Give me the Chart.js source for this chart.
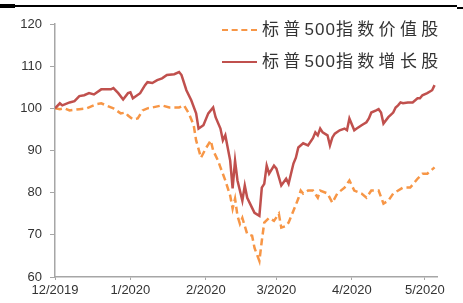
<!DOCTYPE html>
<html lang="zh">
<head>
<meta charset="UTF-8">
<title>标普500指数价值股与增长股</title>
<script src="https://cdn.jsdelivr.net/npm/chart.js"></script>
<style>
    body { margin: 0; background: #fff; }
    #wrap { position: relative; width: 463px; height: 303px; }
    #chart { position: absolute; left: 0; top: 0; }
    .bar { position: absolute; background: #000; }
    .legend { position: absolute; left: 222px; top: 0; width: 241px; height: 80px;
              font-family: "Liberation Sans", "Noto Sans CJK SC", sans-serif;
              font-size: 17px; color: #333; white-space: nowrap; }
    .legend .item { position: absolute; left: 0; height: 20px; width: 240px; }
    .legend .swatch { position: absolute; left: 0; top: 9px; width: 35px; height: 0; }
    .legend .txt { position: absolute; left: 40px; top: 0; line-height: 20px; letter-spacing: 4.3px; }
    .legend .num { letter-spacing: 1px; }
</style>
</head>
<body>
<div id="wrap">
    <canvas id="chart" width="463" height="303"></canvas>
    <div class="bar" style="left:0;top:4px;width:15px;height:4px"></div>
    <div class="bar" style="left:15px;top:5px;width:442px;height:2px"></div>
    <div class="bar" style="left:457px;top:7px;width:6px;height:2px"></div>
    <div class="legend">
        <div class="item" style="top:20px">
            <div class="swatch" style="border-top:2.5px dashed #F79646"></div>
            <div class="txt">标普<span class="num">500</span>指数价值股</div>
        </div>
        <div class="item" style="top:52px">
            <div class="swatch" style="border-top:2.5px solid #C0504D"></div>
            <div class="txt">标普<span class="num">500</span>指数增长股</div>
        </div>
    </div>
</div>

<script>
// days counted from 1 Dec 2019
const tickDays = [0, 31, 62, 91, 122, 152];
const tickLabels = ['12/2019', '1/2020', '2/2020', '3/2020', '4/2020', '5/2020'];

// S&P 500 value index (rebased to 100)
const valueDays = [0, 2, 4, 6, 10, 13, 17, 19, 21, 24, 27, 29, 30, 32, 34, 36, 38, 40, 44, 47,
    51, 53, 55, 57, 58, 60, 62, 64, 65, 67, 68, 70, 72, 73, 74, 75, 76, 77, 79, 81,
    82, 84, 85, 86, 88, 90, 92, 93, 95, 96, 98, 100, 101, 102, 104, 106, 108, 109, 112, 114,
    116, 119, 121, 123, 126, 128, 130, 133, 135, 137, 139, 143, 146, 149, 151, 153, 156];
const valueIdx = [100.0, 99.8, 100.0, 99.5, 99.8, 100.0, 101.0, 101.2, 100.7, 100.0, 98.8, 99.0, 98.3, 97.4, 97.6, 99.5, 100.0, 100.2, 100.7, 100.2,
    100.2, 100.7, 98.8, 96.0, 92.4, 88.3, 90.5, 92.4, 90.0, 87.6, 86.0, 82.9, 79.3, 76.2, 78.6, 74.5, 72.6, 74.0, 70.2, 69.8,
    66.9, 63.8, 68.6, 72.9, 74.0, 73.3, 75.0, 71.7, 72.1, 72.9, 75.7, 78.6, 80.5, 79.8, 80.5, 80.5, 78.8, 80.5, 79.8, 77.6,
    79.8, 81.2, 82.9, 80.5, 79.8, 78.8, 80.5, 80.5, 77.4, 78.1, 79.8, 81.2, 81.2, 83.3, 84.5, 84.5, 86.0];

// S&P 500 growth index (rebased to 100)
const growthDays = [0, 2, 3, 6, 8, 10, 12, 14, 16, 19, 23, 24, 26, 28, 30, 31, 32, 35, 37, 38,
    40, 42, 44, 46, 49, 51, 52, 54, 56, 58, 59, 61, 63, 65, 66, 68, 69, 70, 72, 73,
    74, 75, 77, 78, 79, 81, 82, 84, 85, 86, 87, 88, 90, 91, 93, 95, 96, 98, 99, 100,
    102, 104, 106, 107, 108, 109, 110, 112, 113, 114, 115, 117, 119, 120, 121, 123, 124, 126, 128, 129,
    130, 132, 133, 134, 135, 137, 139, 140, 141, 142, 143, 145, 147, 149, 150, 151, 153, 155, 156];
const growthIdx = [100.0, 101.2, 100.7, 101.4, 101.7, 102.9, 103.1, 103.6, 103.3, 104.5, 104.5, 104.8, 103.6, 102.1, 103.6, 103.8, 102.4, 103.6, 105.5, 106.2,
    106.0, 106.7, 107.1, 107.9, 108.1, 108.6, 107.9, 104.3, 101.9, 98.8, 95.2, 96.0, 98.8, 100.2, 97.9, 95.2, 92.4, 93.6, 87.6, 81.0,
    87.6, 82.9, 78.1, 81.7, 78.8, 76.4, 75.2, 74.5, 81.2, 82.1, 86.4, 84.5, 86.4, 85.7, 81.7, 83.3, 82.1, 86.9, 88.3, 90.7,
    91.7, 91.2, 92.9, 94.3, 93.6, 95.2, 94.3, 93.6, 91.2, 93.1, 94.0, 94.8, 95.2, 94.8, 97.6, 94.8, 95.2, 96.0, 96.7, 97.6,
    99.0, 99.5, 99.8, 99.0, 96.4, 97.9, 99.0, 100.2, 100.7, 101.4, 101.2, 101.4, 101.4, 102.4, 102.4, 103.1, 103.6, 104.3, 105.5];

const toPoints = (xs, ys) => xs.map((x, i) => ({ x: x, y: ys[i] }));

const axisColor = '#a6a6a6';
const labelFont = { family: 'Liberation Sans, Arial, sans-serif', size: 13 };

new Chart(document.getElementById('chart').getContext('2d'), {
    type: 'line',
    data: {
        datasets: [{
            label: '标普500指数增长股',
            data: toPoints(growthDays, growthIdx),
            borderColor: '#C0504D',
            borderWidth: 2.5,
            order: 0
        }, {
            label: '标普500指数价值股',
            data: toPoints(valueDays, valueIdx),
            borderColor: '#F79646',
            borderWidth: 2.5,
            borderDash: [7, 4],
            order: 1
        }]
    },
    options: {
        responsive: false,
        animation: false,
        layout: { padding: { top: 24, right: 26, bottom: 0, left: 0 } },
        elements: { point: { radius: 0 }, line: { tension: 0 } },
        plugins: { legend: { display: false }, tooltip: { enabled: false } },
        scales: {
            x: {
                type: 'linear',
                min: 0,
                max: 157,
                afterBuildTicks: s => { s.ticks = tickDays.map(v => ({ value: v })); },
                afterFit: s => { s.height = 26; },
                grid: { drawOnChartArea: false, tickLength: 3, color: axisColor },
                border: { color: axisColor, width: 1.5 },
                ticks: {
                    autoSkip: false,
                    maxRotation: 0,
                    padding: 3,
                    color: '#333',
                    font: labelFont,
                    callback: v => tickLabels[tickDays.indexOf(v)]
                }
            },
            y: {
                min: 60,
                max: 120,
                afterFit: s => { s.width = 55; },
                grid: { drawOnChartArea: false, tickLength: 5, color: axisColor },
                border: { color: axisColor, width: 1.5 },
                ticks: { stepSize: 10, padding: 8, color: '#333', font: labelFont }
            }
        }
    }
});
</script>
</body>
</html>
